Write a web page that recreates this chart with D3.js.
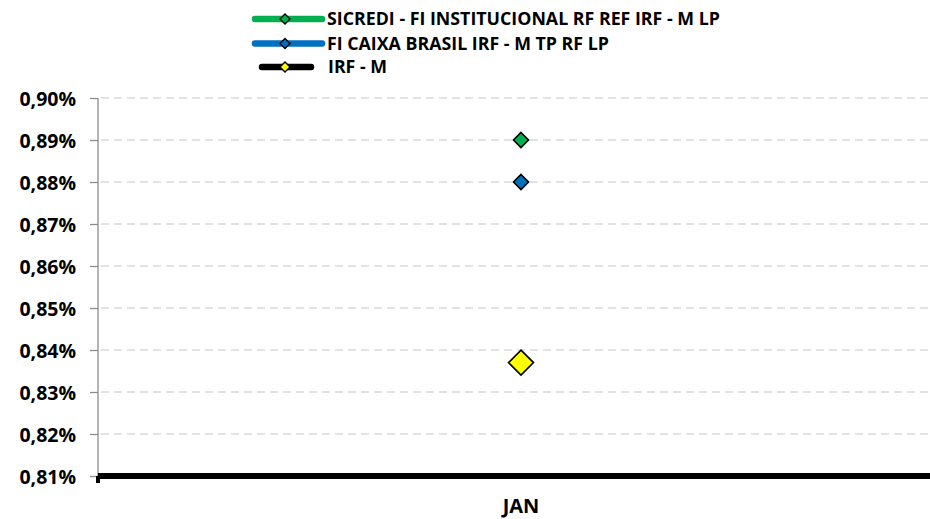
<!DOCTYPE html>
<html><head><meta charset="utf-8">
<script src="https://cdn.jsdelivr.net/npm/d3@7"></script>
<style>body{margin:0;background:#fff}svg{display:block}text{font-family:"Open Sans",Lato,sans-serif;font-weight:bold;fill:#000}</style>
</head><body><svg id="c" width="930" height="519"></svg>
<script>
const categories = ["JAN"];
const seriesNames = ["SICREDI - FI INSTITUCIONAL RF REF IRF - M LP","FI CAIXA BRASIL IRF - M TP RF LP","IRF - M"];
const seriesValues = [[0.89],[0.88],[0.837]];
const seriesLineColors = ["#00b050","#0070c0","#000000"];
const seriesMarkerColors = ["#00b050","#0070c0","#ffff00"];
const yTicks = [0.81,0.82,0.83,0.84,0.85,0.86,0.87,0.88,0.89,0.90];

const svg = d3.select("#c");
const L = 98, R = 944, T = 98, B = 476;
const x = d3.scaleBand().domain(categories).range([L, R]);
const y = d3.scaleLinear().domain([0.81, 0.90]).range([B, T]);
const fmt = v => v.toFixed(2).replace(".", ",") + "%";

// gridlines
svg.append("g").selectAll("line").data(yTicks.slice(1)).join("line")
  .attr("x1", L + 3).attr("x2", 930).attr("y1", d => y(d)).attr("y2", d => y(d))
  .attr("stroke", "#d9d9d9").attr("stroke-width", 1.3).attr("stroke-dasharray", "8,5");

// y axis
const ya = svg.append("g").attr("transform", `translate(${L},0)`)
  .call(d3.axisLeft(y).tickValues(yTicks).tickFormat(fmt).tickSize(8).tickPadding(14));
ya.select(".domain").attr("stroke", "#8c8c8c").attr("stroke-width", 1.3).attr("d", `M0,${T}V${B}`);
ya.selectAll(".tick line").attr("stroke", "#8c8c8c").attr("stroke-width", 1.3);
ya.selectAll(".tick text").style("font-size", "19.5px").attr("dy", "0.36em");

// x axis baseline (IRF - M black line at bottom)
svg.append("line").attr("x1", L).attr("x2", 930).attr("y1", B).attr("y2", B)
  .attr("stroke", "#000").attr("stroke-width", 6);
svg.append("rect").attr("x", L - 2).attr("y", B).attr("width", 4).attr("height", 7).attr("fill", "#000");

const xa = svg.append("g").attr("transform", `translate(0,${B})`)
  .call(d3.axisBottom(x).tickSize(0).tickPadding(23));
xa.select(".domain").remove();
xa.selectAll(".tick text").style("font-size", "20px");

// markers
const sizes = [7.5, 7.5, 12.5];
seriesValues.forEach((vals, i) => {
  svg.append("g").selectAll("path").data(vals).join("path")
    .attr("transform", (d, j) => `translate(${x(categories[j]) + x.bandwidth() / 2},${y(d)})`)
    .attr("d", () => { const s = sizes[i]; return `M0,${-s}L${s},0L0,${s}L${-s},0Z`; })
    .attr("fill", seriesMarkerColors[i]).attr("stroke", "#000").attr("stroke-width", 1.6);
});

// legend
const lg = svg.append("g");
const rowsY = [19, 43.5, 67];
const lineStarts = [255, 255, 262];
const lineEnds = [322, 322, 311];
seriesNames.forEach((n, i) => {
  lg.append("line").attr("x1", lineStarts[i]).attr("x2", lineEnds[i]).attr("y1", rowsY[i]).attr("y2", rowsY[i])
    .attr("stroke", seriesLineColors[i]).attr("stroke-width", 6.5).attr("stroke-linecap", "round");
  const s = 5;
  lg.append("path").attr("transform", `translate(285,${rowsY[i]})`)
    .attr("d", `M0,${-s}L${s},0L0,${s}L${-s},0Z`)
    .attr("fill", seriesMarkerColors[i]).attr("stroke", "#000").attr("stroke-width", 1.4);
  lg.append("text").attr("x", i === 2 ? 328 : 327).attr("y", rowsY[i]).attr("dy", "0.36em")
    .style("font-size", "17.8px").text(n);
});
</script></body></html>
